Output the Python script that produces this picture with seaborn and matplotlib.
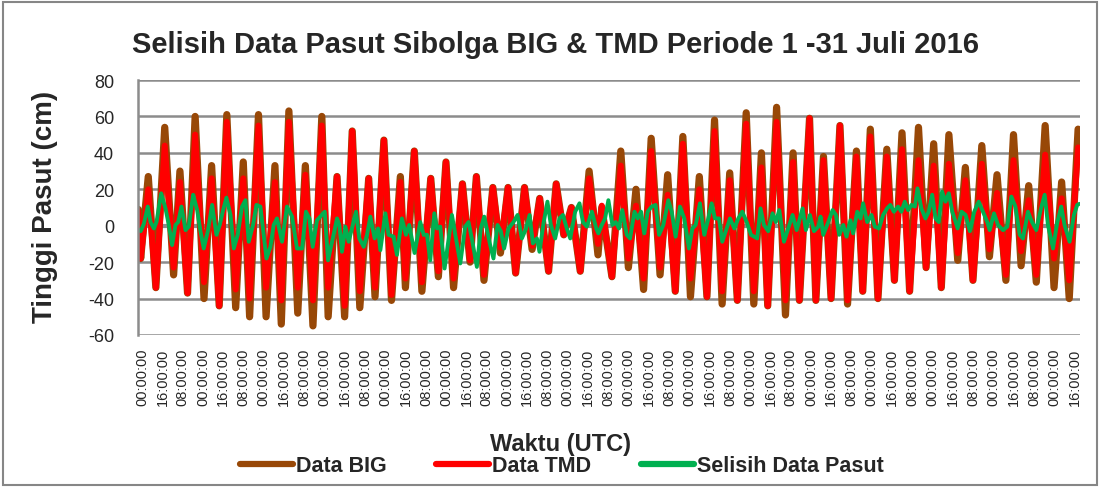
import numpy as np
import pandas as pd
import matplotlib
matplotlib.use("Agg")
import matplotlib.pyplot as plt
import matplotlib.transforms as mtransforms
import seaborn as sns
from matplotlib.patches import Rectangle

# ---- data (hour index from 1 Juli 00:00 UTC) ----
jam_ekstrem = [0, 2, 8, 14, 21, 28, 33, 39, 45, 52, 58, 64, 70, 77, 83, 88, 95, 101, 108, 113,
               119, 126, 132, 138, 145, 150, 157, 163, 169, 175, 182, 187, 194, 200, 207, 211,
               218, 224, 231, 237, 243, 249, 256, 262, 267, 273, 280, 286, 292, 298, 305, 311,
               317, 324, 330, 336, 342, 349, 356, 363, 366, 374, 381, 387, 393, 399, 405, 412,
               418, 424, 430, 436, 443, 449, 455, 461, 467, 473, 480, 486, 492, 497, 504, 511,
               517, 522, 530, 535, 541, 547, 554, 560, 567, 572, 578, 584, 591, 597, 603, 609,
               616, 622, 628, 634, 640, 647, 653, 659, 666, 672, 678, 685, 691, 697, 703, 709,
               716, 723, 729, 735, 742]

data_big = [9, -18, 27, -34, 54, -27, 30, -37, 60, -40, 33, -44, 61, -45, 35, -50, 61, -50, 33, -54,
            63, -48, 33, -55, 60, -50, 27, -50, 52, -45, 26, -39, 47, -41, 27, -34,
            41, -36, 26, -28, 35, -34, 23, -20, 27, -30, 21, -15, 21, -26, 21, -13,
            15, -25, 23, -5, 10, -25, 30, -16, 10, -28, 41, -23, 20, -35, 48, -27,
            28, -36, 49, -39, 27, -39, 58, -43, 29, -41, 62, -43, 40, -44, 65, -49,
            40, -41, 59, -41, 38, -40, 55, -43, 41, -36, 53, -40, 42, -30, 51, -36,
            54, -23, 45, -34, 50, -19, 32, -30, 44, -17, 28, -30, 50, -22, 22, -31,
            55, -34, 24, -40, 53]

data_tmd = [8, -18, 20, -34, 44, -23, 24, -37, 50, -31, 26, -44, 57, -35, 26, -40, 55, -34, 24, -41,
            57, -34, 28, -41, 55, -34, 27, -44, 52, -36, 26, -34, 47, -38, 24, -29,
            41, -31, 26, -25, 35, -29, 23, -19, 27, -27, 21, -12, 21, -26, 21, -11,
            15, -25, 23, -5, 10, -25, 26, -10, 11, -28, 33, -18, 11, -29, 41, -23,
            17, -36, 45, -29, 20, -39, 52, -36, 25, -41, 56, -36, 32, -44, 57, -41,
            35, -41, 59, -41, 36, -40, 55, -41, 38, -36, 49, -40, 38, -30, 42, -36,
            36, -23, 33, -34, 34, -15, 25, -30, 34, -13, 18, -27, 36, -14, 14, -27,
            39, -18, 15, -30, 43]

jam_selisih = [0, 2, 4.5, 7.6, 9.8, 12.4, 14.5, 18.2, 21.6, 24.2, 26.8, 29.5, 31.6, 34.2, 37.4, 40,
               43.4, 46.6, 49.2, 51.8, 55, 58.4, 61.8, 64.4, 67.1, 69.7, 72.9, 75.5, 78.6, 82,
               84.7, 87.3, 90.7, 93.4, 96.5, 101.3, 104.4, 107, 109.6, 113.6, 117.5,
               121.5, 125.4, 129.4, 132.5, 135.2, 137.8, 141.2, 143.8, 147.3, 149.9, 153.1, 157,
               158.8, 160.9, 163.6, 166.2, 169.4, 172, 174.6, 178.1, 180.7, 183.3, 186.7, 189.4,
               191.2, 195.2, 197.7, 201.7, 204.3, 208.2, 211.4, 214, 218.2, 222.7, 225.4, 228,
               230.6, 233.8, 235.9, 238.5, 241.9,
               247.7, 250.4, 254.3, 258.2, 260.8, 263.4, 267.4, 270.5, 273.2, 277.9, 280.5, 283.7,
               286.3, 288.9, 292.4, 296.3, 299.5, 302.9, 306.3, 309, 311.6, 314.8, 316.8, 320,
               323.1, 325.8, 329.2, 332.6, 335.3, 338.4, 341.1, 345, 348.4, 351.1, 354.2, 358.2,
               361.6,
               363.3, 366, 368.6, 371.2, 374.4, 377, 379.6, 382.2, 385.7, 388.3, 391.8, 394.4, 397,
               399.6, 402.2, 405.4, 408.5, 411.2, 414.6, 418.5, 421.2, 424.3, 427.7, 431.1, 434.8,
               437.5, 440.1, 443.5, 446.9, 450.1, 452.7, 455.3, 458.5, 461.1, 464.6, 467.2, 470.6,
               473.8, 476.9, 480.4, 483.8,
               488.7, 491.3, 494, 497.4, 500.8, 503.4, 506.1, 509.8, 513.2, 516.6, 519.8, 524.5,
               527.1, 530.3, 533.5, 536.9, 538.7, 540.8, 544.8, 548.2, 550.8, 553.4, 556.6, 559.2,
               562.3, 564.4, 567.6, 570.2, 572.3, 575.5, 578.9, 581.5, 584.9, 588.1, 591.2, 593.8,
               596.5, 599.9, 602.5, 605.2,
               607.8, 610.4, 613.1, 615.2, 618.3, 621.5, 624.1, 626.8, 629.4, 632, 634.6, 637.3,
               639.9, 642.7, 646.9, 650, 653.2, 656.6, 660, 663.5, 666.9, 670.3, 672.2, 675.6,
               678.8, 682.7, 686.1, 689.3, 692.5, 695.9, 698.5, 702.4, 705.6, 709, 712.4, 715.6,
               718.2, 722.2, 725.6, 728.7, 731.3, 735.3, 738.7, 741.3, 743]

nilai_selisih = [-2, -3, 1, 10.5, 2, -1.5, 2, 17.8, 9.5, 0.4, -10.6, 0.4, 2, 10.5, -2.4, -0.5,
                 17, 8.6, -3, -12.5, -3, 11.4, -5, 0.4, 8.6, 15.4, 5.9, -12.5, -5, 10.5,
                 14, -8.8, 0.4, 11.4, 10.5, -18, -11.6, 0.4, 4, -8.8, 10.5,
                 5, -12.5, -12.5, 7.7, 4, -11.6, 3, 5, 7.7, -19, -8.8, 4,
                 0.4, -14.3, -0.5, -8.8, 0.4, 7.7, -7, -11.6, -5, 5, -7, -1.5,
                 -13.4, 6.8, -5, -6, -16, 4, -5, 0.4, -15, 2, -5, -5,
                 -19, 6.8, -1.5, -0.5, -23.5,
                 5.9, -5, -20.7, -0.5, 2, -7, -22.6, -1.5, 5, -10.6, -18, 0.4,
                 -3, -12.5, -1.5, 2, 5.9, -7, -1.5, 5.9, -9.7, -7, -14.3, 1.3,
                 13.2, 0.4, -7, 4, 5.9, -1.5, -7, 7.7, 12.3, 2, -0.5, 7.7,
                 -1.5,
                 -4.2, 0.4, 4, 14, 0.4, 2, -1.5, 8.6, -5, -7, 7.7, 4, 7.7,
                 -4.2, 7.7, 10.5, 11.4, -5, 0.4, 14, 7.7, -6, 10.5, 4, -12.5,
                 -1.5, 0.4, 12.3, -5, 4, 12.3, 4, 4, -8.8, -1.5, 4, -1.5,
                 4, 7.7, 2, -5,
                 -7, 9.5, 0.4, -3, 6.8, 2, 8.6, -8.8, -1.5, 5.9, -2.4, 9.5,
                 -2.4, 5.9, -3, -0.5, 5, -5, 2, 8.6, 5.9, -5, 0.4, -6,
                 3, -4.2, 7.7, 4, 12.3, 2, 5.9, -0.5, -1.5, 5.9, 9.5, 11.4,
                 7.7, 10.5, 7.7, 13.2,
                 8.6, 11.4, 10.5, 20.5, 9.5, 4, 7.7, 17, 4, 2, 18.7, 13.2,
                 17.8, 7.7, -1.5, 7.7, 5.9, -3, 7.7, 13.2, 7.7, 2, -2.4, 6.8,
                 0.4, -2.4, -0.5, 16, 10.5, -5, -7, 7.7, 2, -2.4, 8.6, 17,
                 0.4, -12.5, 2, 10.5, 0.4, -8.8, 5.9, 11.4, 12]

y_ticks = [-60, -40, -20, 0, 20, 40, 60, 80]
jumlah_jam = 744
langkah_label = 16

df_pasut = pd.DataFrame({'jam': jam_ekstrem, 'Data BIG': data_big, 'Data TMD': data_tmd})
df_selisih = pd.DataFrame({'jam': jam_selisih, 'Selisih Data Pasut': nilai_selisih})

sns.set_style("white")
plt.rcParams['font.family'] = ['Liberation Sans', 'DejaVu Sans']

fig = plt.figure(figsize=(11.01, 4.89), dpi=100)
ax = fig.add_axes([137.5 / 1101, 1 - 336 / 489, (1080 - 137.5) / 1101, (336 - 81) / 489])

warna_grid = '#8c8c8c'
for y in y_ticks:
    ax.axhline(y, color=warna_grid, linewidth=3 if y == 0 else 1.8, zorder=0)

sns.lineplot(data=df_pasut, x='jam', y='Data BIG', color='#984807', linewidth=5.2,
             label='Data BIG', ax=ax, solid_joinstyle='round', solid_capstyle='round')
sns.lineplot(data=df_pasut, x='jam', y='Data TMD', color='#ff0000', linewidth=4.3,
             label='Data TMD', ax=ax, solid_joinstyle='round', solid_capstyle='round')
sns.lineplot(data=df_selisih, x='jam', y='Selisih Data Pasut', color='#00b050', linewidth=2.8,
             label='Selisih Data Pasut', ax=ax, solid_joinstyle='round')

ax.set_xlim(-0.5, jumlah_jam - 0.5)
ax.set_ylim(-60, 80)
ax.set_yticks(y_ticks)
ax.set_yticklabels([str(v) for v in y_ticks], fontsize=13)
pos_label = list(range(0, jumlah_jam, langkah_label))
ax.set_xticks(pos_label)
ax.set_xticklabels([f"{p % 24:02d}:00:00" for p in pos_label], rotation=90, fontsize=10.5,
                   color='#262626')
ax.tick_params(axis='y', length=0, pad=17)
ax.tick_params(axis='x', length=0, pad=9)
geser = mtransforms.ScaledTranslation(4 / 100, 0, fig.dpi_scale_trans)
for lbl in ax.get_xticklabels():
    lbl.set_transform(lbl.get_transform() + geser)
ax.set_xlabel('')
ax.set_ylabel('')

for s in ['top', 'right', 'bottom']:
    ax.spines[s].set_visible(False)
ax.spines['left'].set_color(warna_grid)
ax.spines['left'].set_linewidth(1.8)

fig.text(556 / 1101, 1 - 45 / 489, 'Selisih Data Pasut Sibolga BIG & TMD Periode 1 -31 Juli 2016',
         ha='center', va='center', fontsize=21, fontweight='bold')
fig.text(45 / 1101, 1 - 207 / 489, 'Tinggi Pasut (cm)', rotation=90, ha='center', va='center',
         fontsize=20, fontweight='bold')
fig.text(561 / 1101, 1 - 445 / 489, 'Waktu (UTC)', ha='center', va='center',
         fontsize=17, fontweight='bold')

handles, labels = ax.get_legend_handles_labels()
ax.get_legend().remove()
leg = fig.legend(handles, labels, loc='center', bbox_to_anchor=(562 / 1101, 1 - 467 / 489),
                 ncol=3, frameon=False, handlelength=2.45, handletextpad=0.15, columnspacing=2.3,
                 prop={'weight': 'bold', 'size': 15.5})
for line in leg.get_lines():
    line.set_linewidth(4.5)

fig.add_artist(Rectangle((3 / 1101, 3 / 489), 1094 / 1101, 483 / 489, transform=fig.transFigure,
                         fill=False, edgecolor='#868686', linewidth=1.5))

plt.savefig('out.png', dpi=100)
plt.close()
